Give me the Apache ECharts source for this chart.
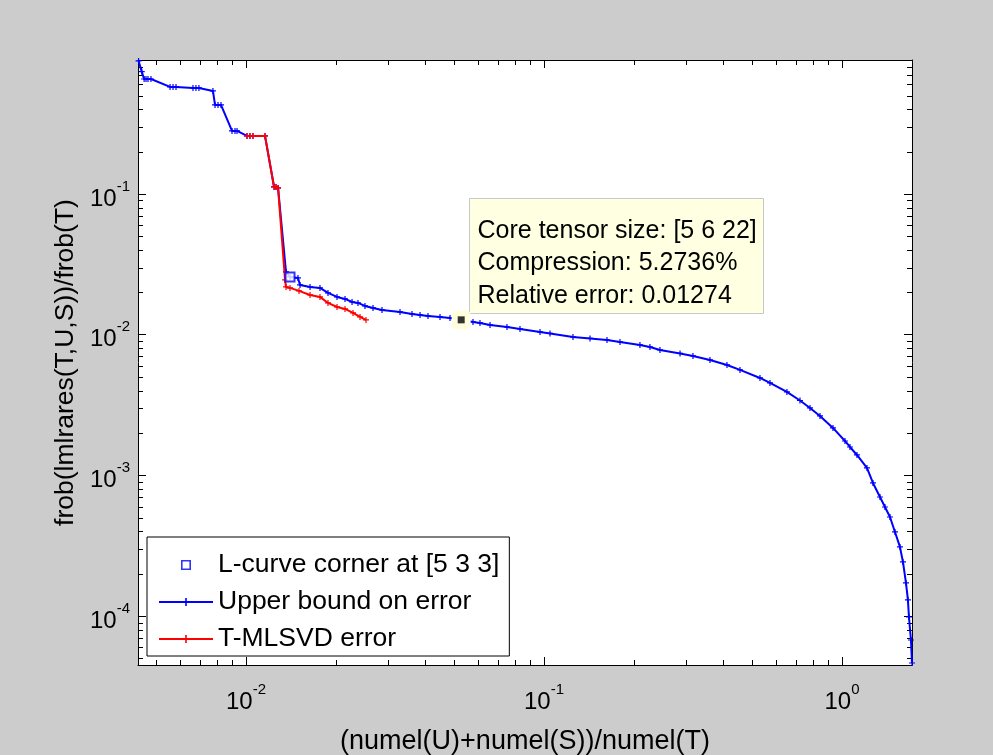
<!DOCTYPE html>
<html><head><meta charset="utf-8">
<script src="https://cdn.jsdelivr.net/npm/echarts@6/dist/echarts.min.js"></script>
<style>html,body{margin:0;padding:0;background:#cccccc;} #c{width:993px;height:755px;}</style>
</head><body><div id="c"></div>
<script>
// ---------------- data ----------------
const upperX = [0.00436, 0.004467, 0.00455, 0.004617, 0.004688, 0.004797, 0.005559, 0.005689, 0.005821, 0.006637, 0.006792, 0.006950, 0.007745, 0.007870, 0.008054, 0.008241, 0.008974, 0.009183, 0.009330, 0.010077, 0.01031, 0.01055, 0.01158, 0.01242, 0.01261, 0.01281, 0.01362, 0.01405, 0.01494, 0.01518, 0.01640, 0.01771, 0.01884, 0.02020, 0.02149, 0.02269, 0.02375, 0.02507, 0.02668, 0.02860, 0.03287, 0.03606, 0.03837, 0.04080, 0.04477, 0.04837, 0.052736, 0.05777, 0.06098, 0.06590, 0.07512, 0.08307, 0.09696, 0.10474, 0.1251, 0.14270, 0.1627, 0.17989, 0.2099, 0.22677, 0.2450, 0.28612, 0.3162, 0.36058, 0.4112, 0.45478, 0.5307, 0.57332, 0.6535, 0.72294, 0.7810, 0.84378, 0.9328, 1.0235, 1.0637, 1.1227, 1.213, 1.2706, 1.3413, 1.3942, 1.4491, 1.5062, 1.5652, 1.6021, 1.6398, 1.6647, 1.6780, 1.7042, 1.7175];
const upperY = [0.881, 0.740, 0.656, 0.656, 0.656, 0.656, 0.5763, 0.5763, 0.5763, 0.5668, 0.5668, 0.5668, 0.5395, 0.4290, 0.4290, 0.4290, 0.2804, 0.2804, 0.2804, 0.2584, 0.2584, 0.2584, 0.2584, 0.1121, 0.1121, 0.1103, 0.02790, 0.02570, 0.02529, 0.02255, 0.02183, 0.02148, 0.01979, 0.01854, 0.01794, 0.01707, 0.01680, 0.01600, 0.01548, 0.01498, 0.01450, 0.01403, 0.01380, 0.01358, 0.01336, 0.01314, 0.01274, 0.01231, 0.01211, 0.01172, 0.01134, 0.01098, 0.01045, 0.01020, 0.009631, 0.009397, 0.009170, 0.008873, 0.008450, 0.008177, 0.007785, 0.007351, 0.007058, 0.006611, 0.006090, 0.005613, 0.004922, 0.004536, 0.003915, 0.003405, 0.003013, 0.002644, 0.002173, 0.001755, 0.001591, 0.001396, 0.001129, 0.000883, 0.000702, 0.000596, 0.000506, 0.000396, 0.000310, 0.0002424, 0.0001719, 0.0001302, 0.0000985, 0.0000676, 0.0000464];
const errX = [0.010077, 0.01031, 0.01055, 0.01158, 0.01242, 0.01261, 0.01281, 0.01352, 0.01362, 0.01405, 0.01506, 0.01640, 0.01771, 0.01884, 0.02020, 0.02149, 0.02286, 0.02413, 0.02527];
const errY = [0.2584, 0.2584, 0.2584, 0.2584, 0.1121, 0.1121, 0.1103, 0.02447, 0.02183, 0.02148, 0.02045, 0.01915, 0.01854, 0.01680, 0.01573, 0.01523, 0.01426, 0.01336, 0.01272];
const cornerX = [0.01405];
const cornerY = [0.02570];
const cursorX = [0.052736];
const cursorY = [0.01274];
const cursorLines = ['Core tensor size: [5 6 22]', 'Compression: 5.2736%', 'Relative error: 0.01274'];
const seriesNames = ['L-curve corner at [5 3 3]', 'Upper bound on error', 'T-MLSVD error'];
const xTickExps = [-2, -1, 0];
const yTickExps = [-4, -3, -2, -1];
const xTitle = '(numel(U)+numel(S))/numel(T)';
const yTitle = 'frob(lmlrares(T,U,S))/frob(T)';
const XMIN = 0.00434, XMAX = 1.718, YMIN = 4.49e-5, YMAX = 0.895;

// ---------------- helpers ----------------
const FONT = '"Liberation Sans", Arial, Helvetica, sans-serif';
const zip = (a, b) => a.map((v, i) => [v, b[i]]);
function minorList(lo, hi) {
  const out = [];
  for (let e = -6; e <= 2; e++) for (let m = 2; m <= 9; m++) {
    const v = m * Math.pow(10, e);
    if (v > lo && v < hi) out.push(v);
  }
  return out;
}
function powLabel(exps) {
  return function (v) {
    const l = Math.log10(v), e = Math.round(l);
    if (Math.abs(l - e) > 1e-6 || exps.indexOf(e) < 0) return '';
    return '{b|10}{s|' + e + '}';
  };
}
const rich = {
  b: { fontSize: 24, lineHeight: 24, verticalAlign: 'bottom', color: '#000', fontFamily: FONT },
  s: { fontSize: 15, lineHeight: 15, verticalAlign: 'bottom', padding: [0, 0, 17, 0], color: '#000', fontFamily: FONT }
};
const plusPath = 'path://M4,0H6V4H10V6H6V10H4V6H0V4H4Z';
const squareFramePath = 'path://M0,0H10V10H0Z M1.6,1.6V8.4H8.4V1.6Z';
const axisCommon = {
  type: 'log', logBase: 10,
  axisLine: { show: true, lineStyle: { color: '#000', width: 1 } },
  axisTick: { show: true, inside: true, length: 8, lineStyle: { color: '#000', width: 1 } },
  splitLine: { show: false },
  minorTick: { show: false }
};

const chart = echarts.init(document.getElementById('c'), null, { renderer: 'canvas' });
const YREF = 0.01, XREF = 0.01;

const option = {
  animation: false,
  backgroundColor: '#cccccc',
  grid: { left: 138, top: 60, width: 774, height: 605, show: true, backgroundColor: '#ffffff', borderWidth: 0, containLabel: false, outerBoundsMode: 'none' },
  legend: {
    data: [
      { name: seriesNames[0], icon: squareFramePath, itemStyle: { color: '#0000ff', borderWidth: 0 } },
      { name: seriesNames[1] },
      { name: seriesNames[2] }
    ],
    symbolKeepAspect: true,
    orient: 'vertical', left: 147, top: 537,
    backgroundColor: '#ffffff', borderColor: '#000', borderWidth: 1, borderRadius: 0,
    padding: [13, 10, 2, 11], itemGap: 7, itemWidth: 54, itemHeight: 10,
    textStyle: { fontSize: 26.5, color: '#000', fontFamily: FONT, lineHeight: 30 },
    selectedMode: false
  },
  xAxis: [
    Object.assign({}, axisCommon, {
      min: XMIN, max: XMAX, position: 'bottom',
      axisLabel: { formatter: powLabel(xTickExps), rich: rich, margin: 25, showMinLabel: false, showMaxLabel: false, hideOverlap: false },
      name: xTitle, nameLocation: 'middle', nameGap: 63,
      nameTextStyle: { fontSize: 27, color: '#000', fontFamily: FONT }
    }),
    Object.assign({}, axisCommon, { min: XMIN, max: XMAX, position: 'top', axisLabel: { show: false } })
  ],
  yAxis: [
    Object.assign({}, axisCommon, {
      min: YMIN, max: YMAX, position: 'left',
      axisLabel: { formatter: powLabel(yTickExps), rich: rich, margin: 8, padding: [10, 0, 0, 0], showMinLabel: false, showMaxLabel: false, hideOverlap: false },
      name: yTitle, nameLocation: 'middle', nameGap: 58,
      nameTextStyle: { fontSize: 26.5, color: '#000', fontFamily: FONT }
    }),
    Object.assign({}, axisCommon, { min: YMIN, max: YMAX, position: 'right', axisLabel: { show: false } })
  ],
  series: [
    {
      type: 'custom', name: 'xminor', silent: true, xAxisIndex: 0, yAxisIndex: 0,
      data: minorList(XMIN, XMAX).map(v => [v, YREF]),
      renderItem: function (params, api) {
        const p = api.coord([api.value(0), YREF]);
        const cs = params.coordSys; const x = Math.round(p[0]) + 0.5;
        return { type: 'group', children: [
          { type: 'line', shape: { x1: x, y1: cs.y + cs.height, x2: x, y2: cs.y + cs.height - 5 }, style: { stroke: '#000', lineWidth: 1 } },
          { type: 'line', shape: { x1: x, y1: cs.y, x2: x, y2: cs.y + 5 }, style: { stroke: '#000', lineWidth: 1 } }
        ] };
      }
    },
    {
      type: 'custom', name: 'yminor', silent: true, xAxisIndex: 0, yAxisIndex: 0,
      data: minorList(YMIN, YMAX).map(v => [XREF, v]),
      renderItem: function (params, api) {
        const p = api.coord([XREF, api.value(1)]);
        const cs = params.coordSys; const y = Math.round(p[1]) + 0.5;
        return { type: 'group', children: [
          { type: 'line', shape: { x1: cs.x, y1: y, x2: cs.x + 5, y2: y }, style: { stroke: '#000', lineWidth: 1 } },
          { type: 'line', shape: { x1: cs.x + cs.width, y1: y, x2: cs.x + cs.width - 5, y2: y }, style: { stroke: '#000', lineWidth: 1 } }
        ] };
      }
    },
    {
      type: 'line', name: seriesNames[1], data: zip(upperX, upperY),
      color: '#0000ff', lineStyle: { color: '#0000ff', width: 2 },
      symbol: plusPath, symbolSize: 6, showSymbol: true, showAllSymbol: true,
      itemStyle: { color: '#0000ff' }, z: 3
    },
    {
      type: 'line', name: seriesNames[2], data: zip(errX, errY),
      color: '#ff0000', lineStyle: { color: '#ff0000', width: 2 },
      symbol: plusPath, symbolSize: 6, showSymbol: true, showAllSymbol: true,
      itemStyle: { color: '#ff0000' }, z: 4
    },
    {
      type: 'scatter', name: seriesNames[0], data: zip(cornerX, cornerY),
      symbol: 'emptyRect', symbolSize: 9, color: '#0000ff',
      itemStyle: { color: '#0000ff', borderColor: '#0000ff', borderWidth: 1.5 }, z: 5
    },
    {
      type: 'scatter', name: 'cursorBg', data: zip(cursorX, cursorY),
      symbol: 'roundRect', symbolSize: 19, itemStyle: { color: '#ffffe0', opacity: 1 }, z: 6, silent: true
    },
    {
      type: 'scatter', name: 'cursorPt', data: zip(cursorX, cursorY),
      symbol: 'rect', symbolSize: 7, itemStyle: { color: '#000000' }, z: 7, silent: true
    }
  ]
};
chart.setOption(option);

// data tip box anchored at the cursor point
const pt = chart.convertToPixel({ xAxisIndex: 0, yAxisIndex: 0 }, [cursorX[0], cursorY[0]]);
const boxL = Math.round(pt[0]) + 8, boxB = Math.round(pt[1]) - 7, boxW = 294, boxH = 115;
chart.setOption({
  graphic: [{
    type: 'group', left: boxL, top: boxB - boxH, z: 100,
    children: [
      { type: 'rect', shape: { x: 0, y: 0, width: boxW, height: boxH }, style: { fill: '#ffffe1', stroke: '#c8c8c8', lineWidth: 1 } },
      { type: 'text', left: 8, top: 16, style: { text: cursorLines.join('\n'), fontSize: 25, lineHeight: 32.5, fontFamily: FONT, fill: '#000' } }
    ]
  }]
});
</script>
</body></html>
